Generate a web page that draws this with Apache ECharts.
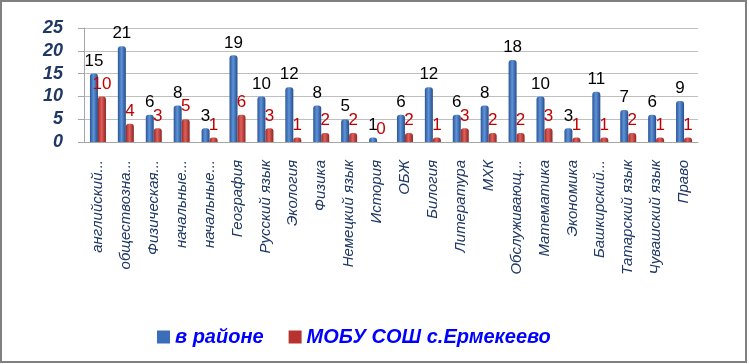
<!DOCTYPE html>
<html>
<head>
<meta charset="utf-8">
<script src="https://cdn.jsdelivr.net/npm/echarts@6/dist/echarts.min.js"></script>
<style>
html,body{margin:0;padding:0;background:#fff;}
#main{width:749px;height:364px;}
</style>
</head>
<body>
<div id="main"></div>
<script>
var categories = ["английский...", "обществозна...", "Физическая...", "начальные...", "начальные...", "География", "Русский язык", "Экология", "Физика", "Немецкий язык", "История", "ОБЖ", "Билогия", "Литература", "МХК", "Обслуживающ...", "Математика", "Экономика", "Башкирский...", "Татарский язык", "Чувашский язык", "Право"];
var seriesNames = ["в районе", "МОБУ СОШ с.Ермекеево"];
var districtValues = [15, 21, 6, 8, 3, 19, 10, 12, 8, 5, 1, 6, 12, 6, 8, 18, 10, 3, 11, 7, 6, 9];
var schoolValues = [10, 4, 3, 5, 1, 6, 3, 1, 2, 2, 0, 2, 1, 3, 2, 2, 3, 1, 1, 2, 1, 1];
var yTicks = {min: 0, max: 25, interval: 5};

var chart = echarts.init(document.getElementById('main'));
var navy = '#1F3864';
function cyl(c1, c2, c3) {
  return new echarts.graphic.LinearGradient(0, 0, 1, 0, [
    {offset: 0, color: c1}, {offset: 0.45, color: c2}, {offset: 1, color: c3}
  ]);
}
chart.setOption({
  animation: false,
  grid: {left: 84, right: 51, top: 28, bottom: 222},
  legend: {
    left: 152, top: 322,
    itemWidth: 13, itemHeight: 13, itemGap: 25,
    icon: 'rect',
    textStyle: {color: '#0000FF', fontSize: 20, fontWeight: 'bold', fontStyle: 'italic', fontFamily: 'Liberation Sans'},
    data: [
      {name: seriesNames[0], itemStyle: {color: '#3B6DB8'}},
      {name: seriesNames[1], itemStyle: {color: '#B7332F'}}
    ]
  },
  xAxis: {
    type: 'category',
    data: categories,
    axisLine: {lineStyle: {color: '#A6A6A6'}},
    axisTick: {length: 6, lineStyle: {color: '#A6A6A6'}},
    axisLabel: {rotate: 90, margin: 18, color: navy, fontSize: 15, fontStyle: 'italic', fontFamily: 'Liberation Sans', interval: 0}
  },
  yAxis: {
    type: 'value', min: yTicks.min, max: yTicks.max, interval: yTicks.interval,
    axisLine: {show: true, lineStyle: {color: '#A6A6A6'}},
    axisTick: {show: true, length: 6, lineStyle: {color: '#A6A6A6'}},
    splitLine: {lineStyle: {color: '#BFBFBF'}},
    axisLabel: {margin: 21, color: navy, fontSize: 18, fontWeight: 'bold', fontStyle: 'italic', fontFamily: 'Liberation Sans'}
  },
  series: [
    {
      name: seriesNames[0], type: 'bar', data: districtValues,
      barWidth: 8, barGap: '0%',
      itemStyle: {color: cyl('#2A5596', '#5E93D8', '#254C8A'), borderRadius: [3, 3, 0, 0]},
      label: {show: true, position: 'top', distance: 4, color: '#000', fontSize: 17, fontFamily: 'Liberation Sans'}
    },
    {
      name: seriesNames[1], type: 'bar', data: schoolValues,
      barWidth: 8,
      itemStyle: {color: cyl('#9B2B28', '#E0605B', '#8E2522'), borderRadius: [3, 3, 0, 0]},
      label: {show: true, position: 'top', distance: 4, color: '#C00000', fontSize: 17, fontFamily: 'Liberation Sans'}
    }
  ],
  graphic: [{
    type: 'rect', shape: {x: 1, y: 1, width: 745, height: 361},
    style: {fill: 'none', stroke: '#808080', lineWidth: 2}, silent: true
  }]
});
</script>
</body>
</html>
